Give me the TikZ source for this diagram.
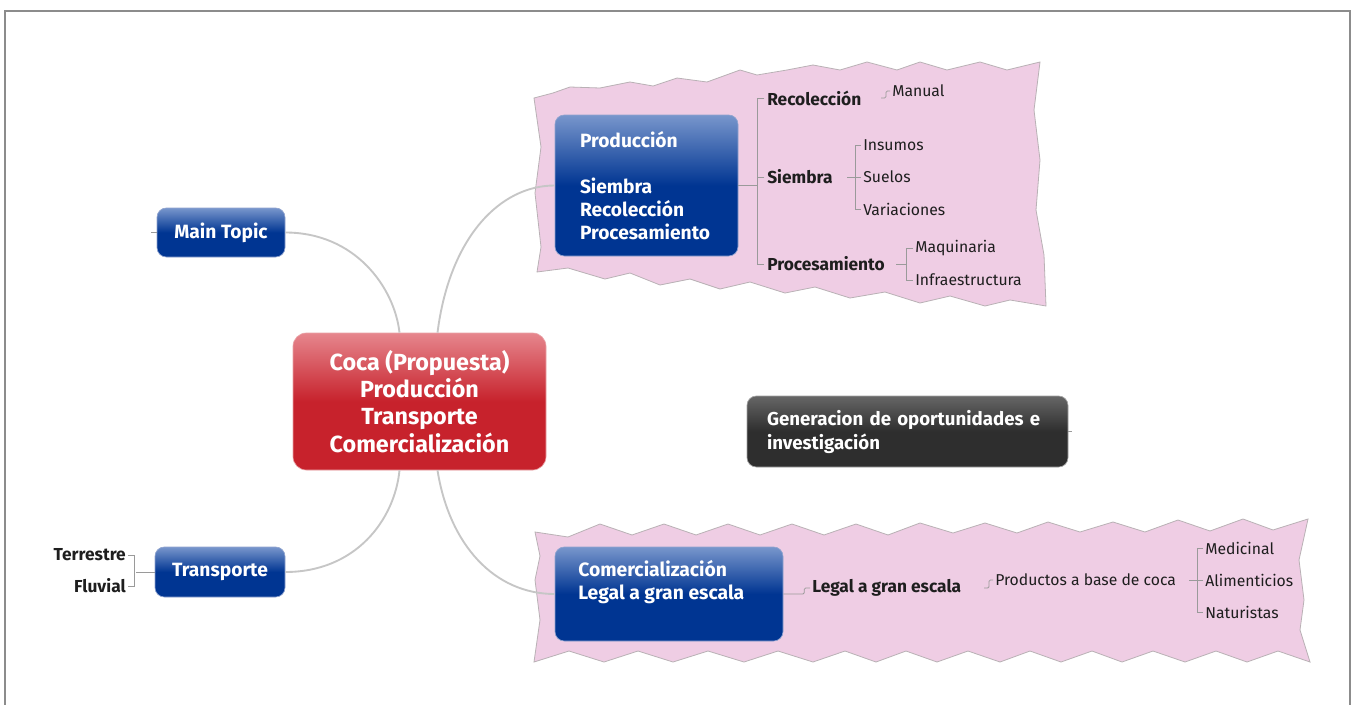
\documentclass[tikz,border=0pt]{standalone}
\usepackage{fontspec}
\setmainfont{Fira Sans}
\usetikzlibrary{calc}

\definecolor{pinkfill}{HTML}{EFCDE4}
\definecolor{pinkedge}{HTML}{B9B1B5}
\definecolor{linkgray}{HTML}{C6C6C6}
\definecolor{treegray}{HTML}{9A9A9A}
\definecolor{bluetop}{HTML}{7896CC}
\definecolor{bluebot}{HTML}{003592}
\definecolor{blueedge}{HTML}{8FA3CF}
\definecolor{redtop}{HTML}{E6868D}
\definecolor{redbot}{HTML}{C7222C}
\definecolor{rededge}{HTML}{E9A3A7}
\definecolor{darktop}{HTML}{666666}
\definecolor{darkbot}{HTML}{2E2E2E}
\definecolor{ink}{HTML}{1E1E1E}
\definecolor{framegray}{HTML}{8C8C8C}

\tikzset{
  x=0.75pt, y=-0.75pt,
  pinkshape/.style={fill=pinkfill, draw=pinkedge, line width=0.6pt, line join=miter},
  bluebox/.style={rounded corners=7pt, draw=blueedge, line width=0.5pt,
    top color=bluetop, bottom color=bluebot, middle color=bluebot,
    text=white, font=\bfseries\fontsize{14.4}{17}\selectfont, inner sep=0pt},
  redbox/.style={rounded corners=10pt, draw=rededge, line width=0.5pt,
    top color=redtop, bottom color=redbot, middle color=redbot,
    text=white, align=center, font=\bfseries\fontsize{17.5}{20.4}\selectfont, inner sep=0pt},
  darkbox/.style={rounded corners=7pt, draw=darktop!60!white, line width=0.5pt,
    top color=darktop, bottom color=darkbot, middle color=darkbot,
    text=white, font=\bfseries\fontsize{14}{18}\selectfont},
  link/.style={draw=linkgray, line width=1.4pt},
  treeline/.style={draw=treegray, line width=0.6pt},
  boldleaf/.style={text=ink, inner sep=0pt, font=\bfseries\fontsize{13}{15}\selectfont},
  leaf/.style={text=ink, inner sep=0pt, font=\fontsize{11.8}{14}\selectfont},
}

\begin{document}
\begin{tikzpicture}
\useasboundingbox (0,0) rectangle (1354,704);
\fill[white] (0,0) rectangle (1354,704);

% page frame
\draw[framegray, line width=0.8pt] (5,712) -- (5,11) -- (1350,11) -- (1350,712);

% torn-paper backdrops
\path[pinkshape] (534,98) -- (553,93) -- (570,87) -- (600,88) -- (630,82) -- (653,86)
  -- (677,78) -- (707,82) -- (740,70) -- (757,75) -- (787,70) -- (813,65) -- (840,70)
  -- (867,62) -- (897,70) -- (920,62) -- (947,70) -- (980,62) -- (1007,70) -- (1040,62)
  -- (1034,110) -- (1040,160) -- (1036,210) -- (1044,255) -- (1046,306)
  -- (1010,300) -- (985,306) -- (950,296) -- (920,303) -- (885,292) -- (850,298)
  -- (815,287) -- (785,293) -- (750,282) -- (720,289) -- (690,279) -- (660,285)
  -- (630,273) -- (605,279) -- (568,268) -- (537,272)
  -- (541,247) -- (535,193) -- (541,147) -- cycle;

\path[pinkshape] (535,532) -- (568,537) -- (600,524) -- (632,535) -- (664,524) -- (696,535)
  -- (728,524) -- (760,535) -- (792,524) -- (824,535) -- (856,524) -- (888,535)
  -- (920,523) -- (953,533) -- (985,523) -- (1017,533) -- (1048,522) -- (1080,532)
  -- (1113,522) -- (1145,532) -- (1178,520) -- (1210,531) -- (1243,519) -- (1273,530)
  -- (1308,519)
  -- (1299,560) -- (1304,600) -- (1300,630) -- (1310,662)
  -- (1278,651) -- (1247,662) -- (1216,651) -- (1185,662) -- (1153,651) -- (1122,662)
  -- (1092,651) -- (1061,662) -- (1030,651) -- (1000,662) -- (968,651) -- (937,662)
  -- (906,651) -- (876,662) -- (845,651) -- (813,662) -- (778,651) -- (744,662)
  -- (708,651) -- (673,662) -- (638,651) -- (604,662) -- (569,651) -- (534,662)
  -- (540,620) -- (535,580) -- (540,556) -- cycle;

% central topic
\node[redbox, minimum width=189.75pt, minimum height=102.75pt] (central) at (419.5,401.5)
  {Coca (Propuesta)\\Producción\\Transporte\\Comercialización};

% main branches
\node[bluebox, minimum width=96pt, minimum height=36.75pt] (maintopic) at (221,232.5) {Main Topic};
\node[bluebox, minimum width=97.5pt, minimum height=37.5pt] (transp) at (220,572) {Transporte};
\node[bluebox, minimum width=137.25pt, minimum height=105.75pt, align=left,
  text width=99.75pt, inner xsep=18.75pt, font=\bfseries\fontsize{14.4}{17.25}\selectfont]
  (prod) at (646.5,185.5)
  {Producción\\[17.25pt]Siembra\\Recolección\\Procesamiento};
\node[darkbox, minimum width=240.75pt, minimum height=53.25pt, align=left,
  text width=210.75pt, inner xsep=15pt] (gen) at (907.5,431.5)
  {Generacion de oportunidades e\\investigación};
\node[bluebox, minimum width=171pt, minimum height=70.5pt] (comB) at (669,594) {};
\node[anchor=west, align=left, text=white, inner sep=0pt,
  font=\bfseries\fontsize{14.5}{17.25}\selectfont] (comT) at (578,582.5)
  {Comercialización\\Legal a gran escala};

% curved links from the central topic
\draw[link] ($(central.north)+(-20,0)$) .. controls +(-5,-45) and +(70,0) .. (maintopic.east);
\draw[link] ($(central.north)+(18,0)$) .. controls +(12,-95) and +(-55,0) .. (prod.west);
\draw[link] ($(central.south)+(-20,0)$) .. controls +(-5,50) and +(70,0) .. (transp.east);
\draw[link] ($(central.south)+(18,0)$) .. controls +(12,75) and +(-60,0) .. (comB.west);

% stubs
\draw[treeline] (maintopic.west) -- ++(-6,0);
\draw[treeline] (gen.east) -- ++(4,0);

% Producción subtopics
\node[boldleaf, anchor=west] (recol) at (767,98) {Recolección};
\node[boldleaf, anchor=west] (siem) at (767,177) {Siembra};
\node[boldleaf, anchor=west] (proc) at (767,264) {Procesamiento};
\node[leaf, anchor=west] (manual) at (892,91) {Manual};
\node[leaf, anchor=west] (insumos) at (863,145) {Insumos};
\node[leaf, anchor=west] (suelos) at (863,177) {Suelos};
\node[leaf, anchor=west] (varia) at (863,209) {Variaciones};
\node[leaf, anchor=west] (maq) at (915,248) {Maquinaria};
\node[leaf, anchor=west] (infra) at (915,280) {Infraestructura};

\draw[treeline] (prod.east) -- ++(19,0);
\draw[treeline] ([xshift=-2pt]recol.west) -- ++(-7,0) |- ([xshift=-2pt]proc.west);
\draw[treeline] ([xshift=-2pt]siem.west) -- ++(-7,0);
\draw[treeline, rounded corners=1pt] ([xshift=-1.5pt]manual.west) -- ++(-4,0) -- ++(0,7) -- ++(-5,0);
\draw[treeline] ([xshift=-1.5pt]insumos.west) -- ++(-6,0) |- ([xshift=-1.5pt]varia.west);
\draw[treeline] ([xshift=-1.5pt]suelos.west) -- ++(-14,0);
\draw[treeline] ([xshift=-1.5pt]maq.west) -- ++(-7,0) |- ([xshift=-1.5pt]infra.west);
\draw[treeline] ($(maq.west)!0.5!(infra.west)+(-9,0)$) -- ++(-10,0);

% Comercialización subtopics
\node[boldleaf, anchor=west] (legal) at (812,588) {Legal a gran escala};
\node[leaf, anchor=west] (prodcoca) at (995,580) {Productos a base de coca};
\node[leaf, anchor=west] (medic) at (1205,548) {Medicinal};
\node[leaf, anchor=west] (alim) at (1205,580) {Alimenticios};
\node[leaf, anchor=west] (natur) at (1205,612) {Naturistas};

\draw[treeline, rounded corners=1pt] (comB.east) -- ++(21,0) |- ([xshift=-1.5pt]legal.west);
\draw[treeline, rounded corners=1pt] ([xshift=-1.5pt]prodcoca.west) -- ++(-4,0) -- ++(0,8) -- ++(-5,0);
\draw[treeline] ([xshift=-1.5pt]medic.west) -- ++(-6,0) |- ([xshift=-1.5pt]natur.west);
\draw[treeline] ([xshift=-1.5pt]alim.west) -- ++(-14,0);

% Transporte subtopics
\node[boldleaf, anchor=east] (terr) at (126,555) {Terrestre};
\node[boldleaf, anchor=east] (fluv) at (126,586) {Fluvial};
\draw[treeline] ([xshift=1.5pt]terr.east) -- ++(6,0) |- ([xshift=1.5pt]fluv.east);
\draw[treeline] (transp.west) -- ++(-19,0);
\end{tikzpicture}
\end{document}
